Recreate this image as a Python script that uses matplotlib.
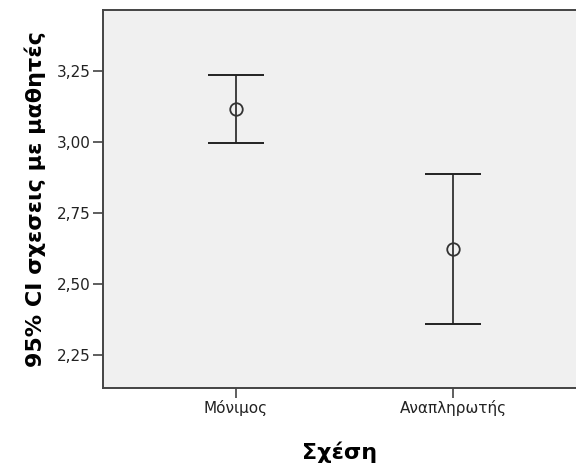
import matplotlib.pyplot as plt
import numpy as np

categories = ["Μόνιμος", "Αναπληρωτής"]
means = [3.115, 2.622]
ci_low = [2.995, 2.358]
ci_high = [3.235, 2.888]
yticks = [2.25, 2.50, 2.75, 3.00, 3.25]
ytick_labels = ["2,25", "2,50", "2,75", "3,00", "3,25"]

fig = plt.figure(figsize=(5.76, 4.70), dpi=100)
ax = fig.add_axes([103 / 576, 82 / 470, 1 - 103 / 576, 378 / 470])
ax.set_facecolor("#f0f0f0")

x = np.arange(len(categories))
means = np.array(means)
yerr = [means - np.array(ci_low), np.array(ci_high) - means]
ax.errorbar(x, means, yerr=yerr, fmt="none", ecolor="#222222",
            elinewidth=1.2, capsize=20, capthick=1.4)
ax.plot(x, means, "o", mfc="none", mec="#333333", mew=1.3, ms=9)

ax.set_xlim(-0.613, 1.567)
ax.set_ylim(2.134, 3.465)
ax.set_xticks(x)
ax.set_xticklabels(categories, fontsize=11, family="DejaVu Sans", color="#222222")
ax.set_yticks(yticks)
ax.set_yticklabels(ytick_labels, fontsize=11, family="DejaVu Sans", color="#222222")
ax.tick_params(length=7.5, width=1.1, color="#333333", direction="out", pad=1.5)

for side in ["left", "bottom", "top"]:
    ax.spines[side].set_color("#444444")
    ax.spines[side].set_linewidth(1.4)
ax.spines["right"].set_visible(False)

ax.set_ylabel("95% CI σχεσεις με μαθητές", fontsize=16, fontweight="bold",
              family="DejaVu Sans", labelpad=8)
ax.set_xlabel("Σχέση", fontsize=16, fontweight="bold", family="DejaVu Sans",
              labelpad=18)

fig.savefig("out.png", dpi=100)
